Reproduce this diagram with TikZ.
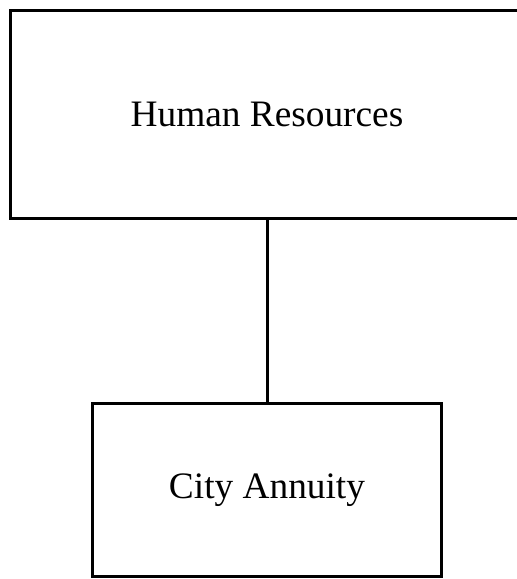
\documentclass[tikz,border=0pt]{standalone}
\usepackage{fontspec}
\setmainfont{Liberation Serif}
\begin{document}
\begin{tikzpicture}[
            x=0.75pt,
            y=-0.75pt,
            unit/.style={draw=black, line width=2.25pt, fill=white, font=\fontsize{28}{33}\selectfont, inner sep=0pt},
            link/.style={line width=2.25pt}
        ]
        \useasboundingbox (0,0) rectangle (517,579);

        \node[unit, minimum width=384.75pt, minimum height=156pt] (hr) at (267,114.5) {Human Resources};
        \node[unit, minimum width=261.75pt, minimum height=130pt] (ca) at (267,490.25) {City Annuity};

        \draw[link] (hr) -- (ca);

    \end{tikzpicture}
\end{document}
